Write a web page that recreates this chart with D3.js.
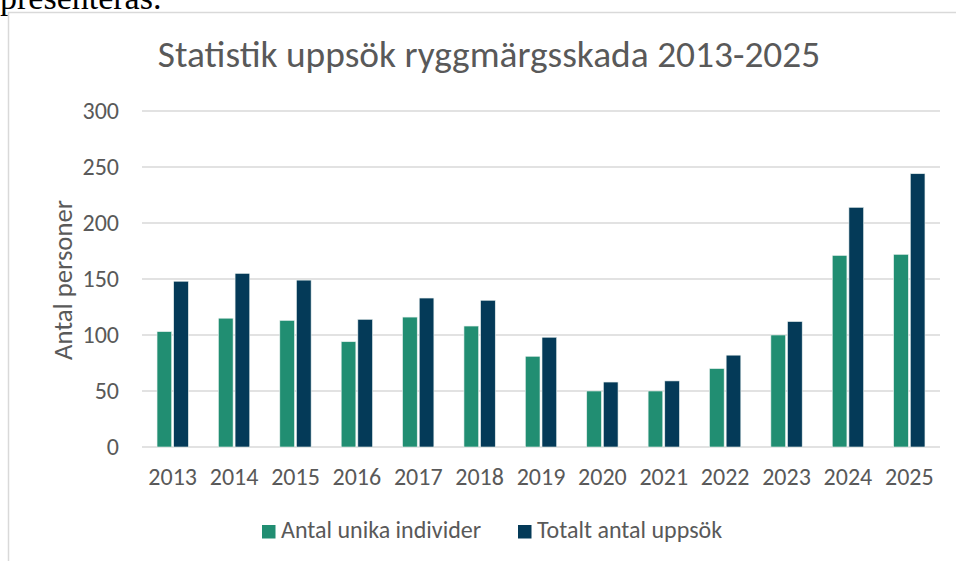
<!DOCTYPE html>
<html lang="sv">
<head>
  <meta charset="UTF-8" />
  <title>Statistik uppsök ryggmärgsskada 2013-2025</title>
  <script src="https://d3js.org/d3.v7.min.js"></script>
  <style>
    body {
      margin: 0;
      background: #ffffff;
      overflow: hidden;
    }
    svg {
      display: block;
    }
  </style>
</head>
<body>
  <svg width="956" height="561"></svg>

  <script>
    const years = ["2013", "2014", "2015", "2016", "2017", "2018", "2019",
                   "2020", "2021", "2022", "2023", "2024", "2025"];
    const uniqueIndividuals = [103, 115, 113, 94, 116, 108, 81, 50, 50, 70, 100, 171, 172];
    const totalVisits = [148, 155, 149, 114, 133, 131, 98, 58, 59, 82, 112, 214, 244];
    const seriesNames = ["Antal unika individer", "Totalt antal uppsök"];
    const yTicks = [0, 50, 100, 150, 200, 250, 300];

    const colors = ["#218e72", "#043a58"];
    const textColor = "#595959";
    const font = "Carlito, Calibri, Lato, 'Liberation Sans', sans-serif";

    const svg = d3.select("svg");

    // text (cut off) from the page above the chart
    svg.append("text")
      .attr("x", 0)
      .attr("y", 9)
      .attr("font-family", "'Liberation Serif', 'Times New Roman', serif")
      .attr("font-size", 34)
      .attr("fill", "#000")
      .text("presenteras.");

    // chart frame
    svg.append("rect")
      .attr("x", 8.5)
      .attr("y", 12.5)
      .attr("width", 1000)
      .attr("height", 600)
      .attr("fill", "#fff")
      .attr("stroke", "#d9d9d9")
      .attr("stroke-width", 1.5);

    const plot = { left: 142, right: 940, top: 111, bottom: 447 };

    const x = d3.scaleBand()
      .domain(years)
      .range([plot.left, plot.right])
      .paddingInner(0.49)
      .paddingOuter(0.245);

    const x1 = d3.scaleBand()
      .domain([0, 1])
      .range([0, x.bandwidth()])
      .paddingInner(0.12);

    const y = d3.scaleLinear()
      .domain([0, 300])
      .range([plot.bottom, plot.top]);

    // gridlines
    svg.append("g")
      .selectAll("line")
      .data(yTicks)
      .join("line")
      .attr("x1", plot.left)
      .attr("x2", plot.right)
      .attr("y1", d => y(d))
      .attr("y2", d => y(d))
      .attr("stroke", "#d9d9d9")
      .attr("stroke-width", 1.5);

    // y axis labels
    const yAxis = svg.append("g")
      .attr("transform", `translate(${plot.left - 23},0)`)
      .call(d3.axisLeft(y).tickValues(yTicks).tickSize(0).tickPadding(0));
    yAxis.select(".domain").remove();
    yAxis.selectAll("text")
      .attr("font-family", font)
      .attr("font-size", 24)
      .attr("fill", textColor);

    // x axis labels
    const xAxis = svg.append("g")
      .attr("transform", `translate(0,${plot.bottom})`)
      .call(d3.axisBottom(x).tickSize(0).tickPadding(21));
    xAxis.select(".domain").remove();
    xAxis.selectAll("text")
      .attr("font-family", font)
      .attr("font-size", 24)
      .attr("fill", textColor);

    // bars
    const series = [uniqueIndividuals, totalVisits];
    series.forEach((values, si) => {
      svg.append("g")
        .selectAll("rect")
        .data(values)
        .join("rect")
        .attr("x", (d, i) => x(years[i]) + x1(si))
        .attr("width", x1.bandwidth())
        .attr("y", d => y(d))
        .attr("height", d => y(0) - y(d))
        .attr("fill", colors[si])
        .attr("stroke", "#e8f0ee")
        .attr("stroke-width", 0.6);
    });

    // title
    svg.append("text")
      .attr("x", 489)
      .attr("y", 67)
      .attr("text-anchor", "middle")
      .attr("font-family", font)
      .attr("font-size", 37.4)
      .attr("fill", textColor)
      .text("Statistik uppsök ryggmärgsskada 2013-2025");

    // y axis title
    svg.append("text")
      .attr("transform", "translate(72,280) rotate(-90)")
      .attr("text-anchor", "middle")
      .attr("font-family", font)
      .attr("font-size", 26.7)
      .attr("fill", textColor)
      .text("Antal personer");

    // legend
    const legendX = [262, 518];
    seriesNames.forEach((name, i) => {
      svg.append("rect")
        .attr("x", legendX[i])
        .attr("y", 525)
        .attr("width", 13.5)
        .attr("height", 13.5)
        .attr("fill", colors[i]);
      svg.append("text")
        .attr("x", legendX[i] + 19)
        .attr("y", 538)
        .attr("font-family", font)
        .attr("font-size", 24)
        .attr("fill", textColor)
        .text(name);
    });
  </script>
</body>
</html>
